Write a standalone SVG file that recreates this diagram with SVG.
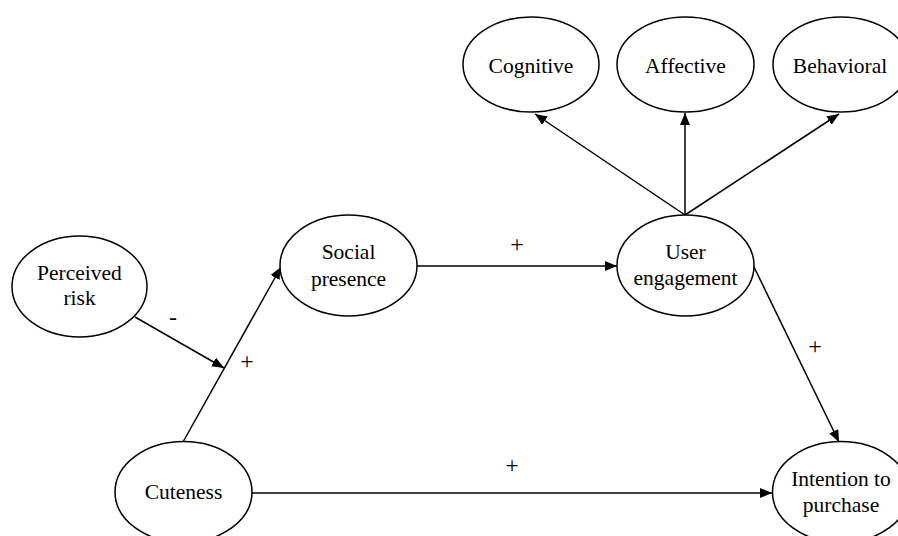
<svg xmlns="http://www.w3.org/2000/svg" width="898" height="536" viewBox="0 0 898 536">
<style>
.n ellipse{fill:#fff;stroke:#000;stroke-width:1.5}
text{font-family:"Liberation Serif","Times New Roman",serif;font-size:21.5px;fill:#000;text-anchor:middle}
#labels text{font-size:24px}
.c line{stroke:#000;stroke-width:1.5;marker-end:url(#ah)}
</style>
<defs>
<marker id="ah" viewBox="0 0 12 10" refX="12" refY="5" markerWidth="12" markerHeight="10" markerUnits="userSpaceOnUse" orient="auto">
<path d="M0,0 L12,5 L0,10 Z" fill="#000"/>
</marker>
</defs>
<rect width="898" height="536" fill="#fff"/>
<g class="c" id="connectors">
<line x1="685" y1="215" x2="535" y2="114"/>
<line x1="685" y1="215" x2="685" y2="113"/>
<line x1="685" y1="215" x2="839" y2="114"/>
<line x1="417" y1="266" x2="617" y2="266"/>
<line x1="252" y1="493" x2="772" y2="493"/>
<line x1="183" y1="442" x2="281" y2="267"/>
<line x1="135" y1="317" x2="224" y2="368"/>
<line x1="754" y1="267" x2="839" y2="442"/>
</g>
<g class="n" id="cognitive"><ellipse cx="531" cy="64.5" rx="68" ry="47.5"/><text x="531" y="73">Cognitive</text></g>
<g class="n" id="affective"><ellipse cx="685.5" cy="64.5" rx="68.5" ry="47.5"/><text x="685.5" y="73">Affective</text></g>
<g class="n" id="behavioral"><ellipse cx="841" cy="64.5" rx="68" ry="47.5"/><text x="840" y="73">Behavioral</text></g>
<g class="n" id="perceived-risk"><ellipse cx="79.5" cy="286.5" rx="67.5" ry="50.5"/><text x="79.5" y="280">Perceived</text><text x="79.5" y="305">risk</text></g>
<g class="n" id="social-presence"><ellipse cx="348.5" cy="265.5" rx="68.5" ry="50.5"/><text x="348.5" y="259">Social</text><text x="348.5" y="286">presence</text></g>
<g class="n" id="user-engagement"><ellipse cx="685.5" cy="265.5" rx="68.5" ry="50.5"/><text x="685.5" y="259">User</text><text x="685.5" y="285">engagement</text></g>
<g class="n" id="cuteness"><ellipse cx="183.5" cy="492" rx="68.5" ry="50.5"/><text x="183.5" y="499">Cuteness</text></g>
<g class="n" id="intention"><ellipse cx="841" cy="492" rx="68.5" ry="50.5"/><text x="841" y="486">Intention to</text><text x="841" y="512">purchase</text></g>
<g id="labels">
<text x="517" y="252">+</text>
<text x="173" y="325">-</text>
<text x="247" y="369">+</text>
<text x="815" y="354">+</text>
<text x="512" y="473">+</text>
</g>
</svg>
